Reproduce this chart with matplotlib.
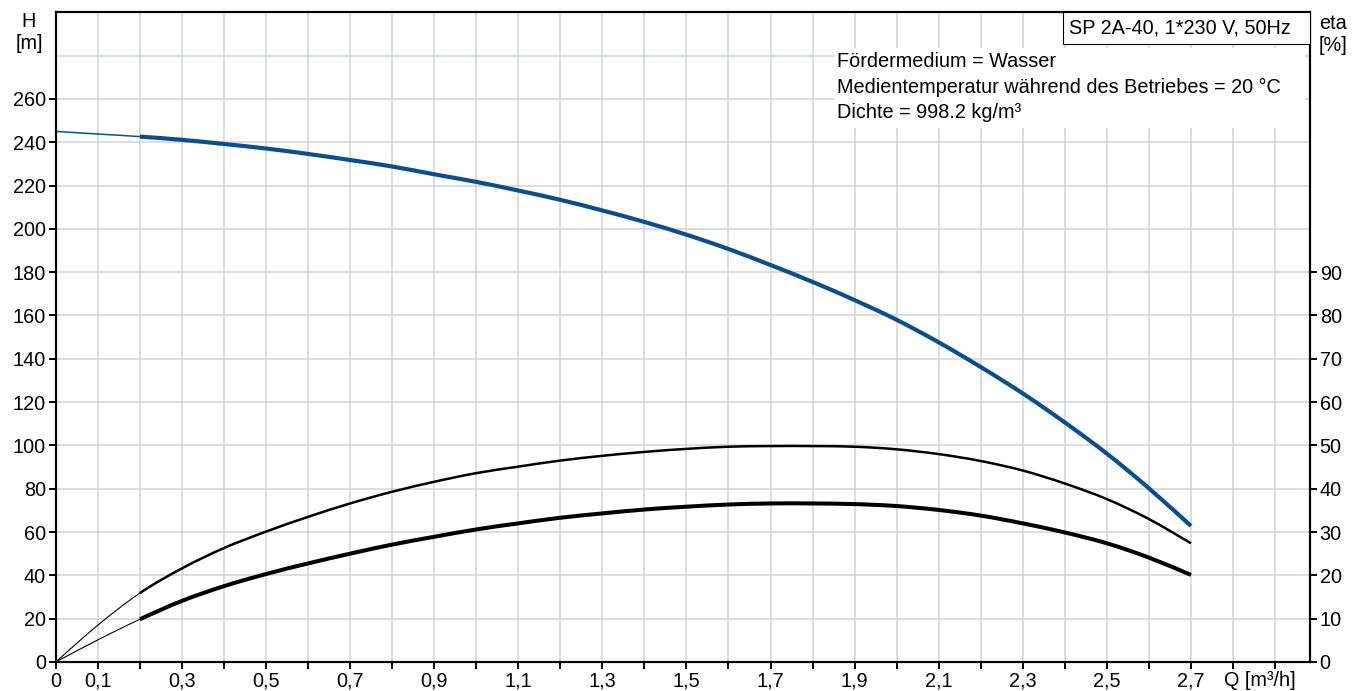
#!/usr/bin/env python3
"""
Pumpenkennlinie SP 2A-40: Förderhöhe H und Wirkungsgrad eta über Q
"""
import matplotlib
matplotlib.use('Agg')  # kein Display
import matplotlib.pyplot as plt
from matplotlib.patches import Rectangle, PathPatch
from matplotlib.path import Path

plt.rcParams['font.family'] = ['Liberation Sans', 'DejaVu Sans']
plt.rcParams['font.size'] = 14.3

# Daten
q = [0.0, 0.1, 0.2, 0.3, 0.4, 0.5, 0.6, 0.7, 0.8, 0.9, 1.0, 1.1, 1.2, 1.3,
     1.4, 1.5, 1.6, 1.7, 1.8, 1.9, 2.0, 2.1, 2.2, 2.3, 2.4, 2.5, 2.6, 2.7]
head = [245.0, 243.8, 242.6, 241.1, 239.2, 237.1, 234.6, 231.8, 228.8, 225.2,
        221.7, 217.7, 213.4, 208.5, 203.2, 197.3, 190.7, 183.3, 175.5, 167.1,
        158.0, 147.6, 136.2, 124.0, 110.6, 96.2, 80.2, 62.8]
eta_pump = [0.0, 8.5, 15.9, 21.6, 26.3, 30.1, 33.5, 36.6, 39.3, 41.6, 43.6,
            45.1, 46.5, 47.6, 48.5, 49.2, 49.7, 49.85, 49.85, 49.7, 49.1, 48.0,
            46.4, 44.2, 41.2, 37.6, 33.0, 27.4]
eta_total = [0.0, 5.1, 9.85, 14.1, 17.5, 20.3, 22.75, 25.0, 27.1, 28.9, 30.6,
             32.0, 33.3, 34.3, 35.2, 35.85, 36.35, 36.6, 36.6, 36.45, 36.0, 35.1,
             33.8, 32.0, 29.9, 27.4, 24.1, 20.1]

x_ticks = [i / 10 for i in range(30)]
x_labels = ['0' if i == 0 else (f'0,{i}' if i < 10 else f'{i // 10},{i % 10}')
            if (i == 0 or i % 2 == 1) and i <= 27 else '' for i in range(30)]
h_ticks = list(range(0, 261, 20))
eta_ticks = list(range(0, 91, 10))

info_lines = ['Fördermedium = Wasser',
              'Medientemperatur während des Betriebes = 20 °C',
              'Dichte = 998.2 kg/m³']
title_box = 'SP 2A-40, 1*230 V, 50Hz'

BLUE = '#0c4e8a'
GRID = '#d0d4d8'
k = 2  # Index ab dem die Kurve dick gezeichnet wird (Q = 0.2)


def smooth_path(xs, ys, i0, i1):
    """Glatter Pfad (Catmull-Rom als Bezier) durch die Punkte i0..i1"""
    n = len(xs)
    verts = [(xs[i0], ys[i0])]
    codes = [Path.MOVETO]
    for i in range(i0, i1):
        a, b = max(i - 1, 0), min(i + 2, n - 1)
        c1 = (xs[i] + (xs[i + 1] - xs[a]) / 6, ys[i] + (ys[i + 1] - ys[a]) / 6)
        c2 = (xs[i + 1] - (xs[b] - xs[i]) / 6, ys[i + 1] - (ys[b] - ys[i]) / 6)
        verts += [c1, c2, (xs[i + 1], ys[i + 1])]
        codes += [Path.CURVE4] * 3
    return Path(verts, codes)


def draw_curve(axis, ys, color, lw_thin, lw_thick):
    for i0, i1, lw in ((0, k, lw_thin), (k, len(q) - 1, lw_thick)):
        axis.add_patch(PathPatch(smooth_path(q, ys, i0, i1), facecolor='none',
                                 edgecolor=color, lw=lw, capstyle='butt',
                                 zorder=2))


fig = plt.figure(figsize=(13.63, 6.91), dpi=100)
ax = fig.add_axes([0.0409, 0.042, 0.9202, 0.9402])
ax2 = ax.twinx()

# Förderhöhe
draw_curve(ax, head, BLUE, 1.1, 3.0)

# Wirkungsgrade
draw_curve(ax2, eta_pump, 'black', 0.8, 1.8)
draw_curve(ax2, eta_total, 'black', 0.8, 2.9)

ax.set_xlim(0, 2.983)
ax.set_ylim(0, 300)
ax2.set_ylim(0, 150)

ax.set_xticks(x_ticks)
ax.set_xticklabels(x_labels)
ax.set_yticks(h_ticks)
ax.set_yticks([280], minor=True)
ax2.set_yticks(eta_ticks)

ax.grid(True, which='both', color=GRID, lw=1.1)
ax.set_axisbelow(True)
ax.tick_params(which='major', direction='out', length=5, width=1.4, pad=2)
ax.tick_params(which='minor', length=0)
ax2.tick_params(direction='out', length=5, width=1.4, pad=2)
for a in (ax, ax2):
    for s in a.spines.values():
        s.set_linewidth(1.5)

# Achsbeschriftungen
fig.text(29 / 1363, 1 - 12 / 691, 'H\n[m]', ha='center', va='top')
fig.text(1333 / 1363, 1 - 14 / 691, 'eta\n[%]', ha='center', va='top')
ax.annotate('Q [m³/h]', xy=(0.9315, 0), xycoords='axes fraction',
            xytext=(0, -9.5), textcoords='offset pixels', ha='left', va='top')

# Kasten oben rechts
ax2.add_patch(Rectangle((0.803, 0.951), 0.197, 0.049, transform=ax2.transAxes,
                        facecolor='white', edgecolor='black', lw=0.8,
                        zorder=3, clip_on=False))
ax2.text(0.8075, 0.9758, title_box, transform=ax2.transAxes,
         ha='left', va='center', zorder=4)

# Medieninfo
ax2.add_patch(Rectangle((0.6213, 0.822), 0.375, 0.123, transform=ax2.transAxes,
                        facecolor='white', edgecolor='none', zorder=3))
for line, yy in zip(info_lines, [0.9158, 0.8758, 0.8373]):
    ax2.text(0.623, yy, line, transform=ax2.transAxes,
             ha='left', va='baseline', zorder=4)

plt.savefig('out.png', dpi=100)
plt.close()
